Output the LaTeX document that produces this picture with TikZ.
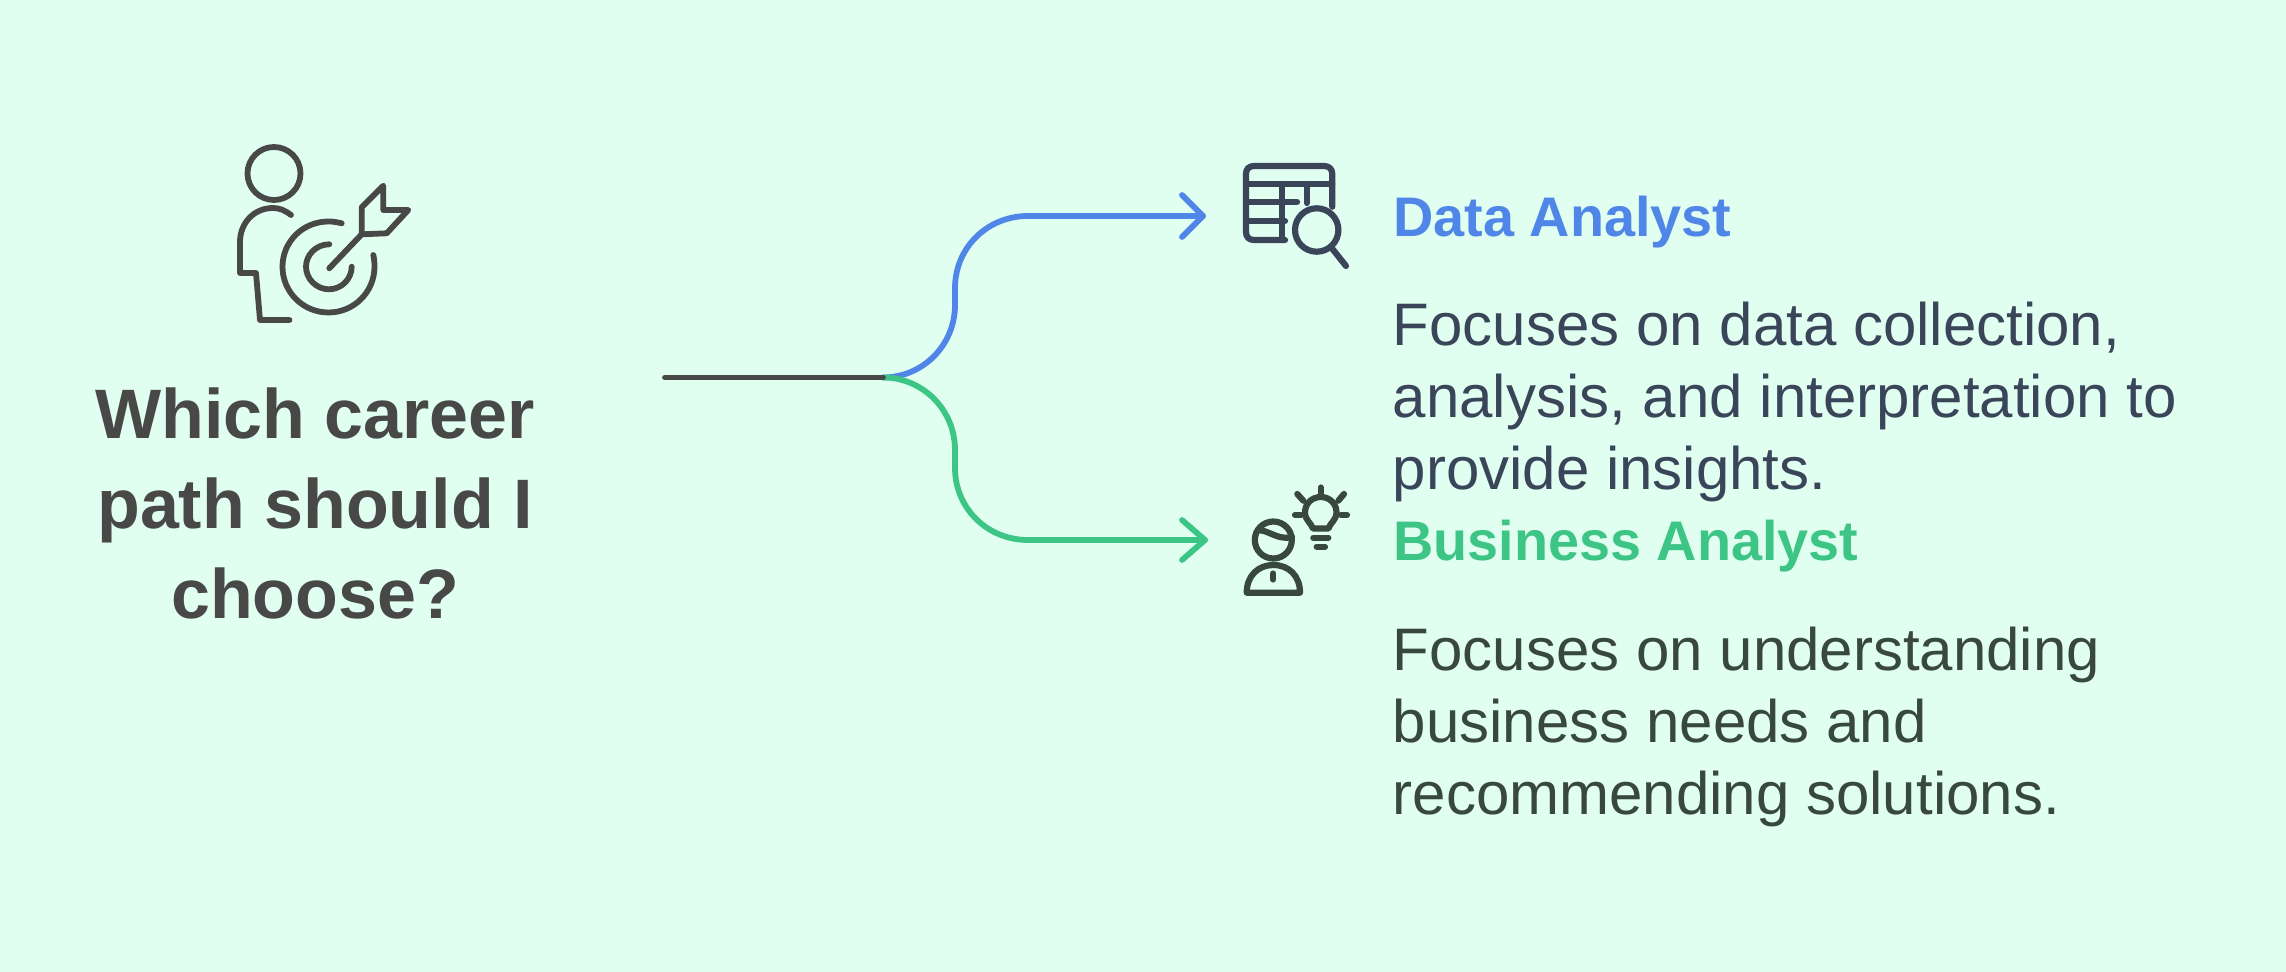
\documentclass[tikz,border=0pt]{standalone}
\usepackage{fontspec}
\setmainfont{Liberation Sans}
\definecolor{bgc}{HTML}{E0FFF0}
\definecolor{bluec}{HTML}{4F86E8}
\definecolor{greenc}{HTML}{3DC585}
\definecolor{darkc}{HTML}{484848}
\definecolor{navyc}{HTML}{3A4559}
\definecolor{slatec}{HTML}{38483F}
\tikzset{
  conn/.style={line width=2.9pt,line cap=round,line join=round},
  ico/.style={line width=2.9pt,line cap=round,line join=round},
  titletext/.style={anchor=base,align=center,inner sep=0pt,text=darkc,font=\fontsize{35}{45}\selectfont\bfseries},
  headtext/.style={anchor=base west,inner sep=0pt,font=\fontsize{27.9}{30}\selectfont\bfseries},
  bodytext/.style={anchor=base west,align=left,inner sep=0pt,font=\fontsize{30}{36}\selectfont},
}
\begin{document}
\begin{tikzpicture}[x=0.5pt,y=-0.5pt]
\useasboundingbox (0,0) rectangle (2286,972);
\fill[bgc] (0,0) rectangle (2286,972);
% connectors
\coordinate (start) at (665,377.5);
\coordinate (fork) at (883,377.5);
\coordinate (endA) at (1203,216);
\coordinate (endB) at (1205,540);
\draw[conn,bluec] (fork) .. controls (923,377.5) and (955,345) .. (955,305) -- (955,288) .. controls (955,248) and (987,216) .. (1028,216) -- (endA);
\draw[conn,bluec] (1182,195) -- (endA) -- (1182,237);
\draw[conn,greenc] (fork) .. controls (923,377.5) and (955,410) .. (955,450) -- (955,468) .. controls (955,508) and (987,540) .. (1028,540) -- (endB);
\draw[conn,greenc] (1182,520) -- (endB) -- (1182,560);
\draw[conn,darkc] (start) -- (fork);
% target icon
\begin{scope}[ico,darkc]
\draw (274,173.5) circle (26.5);
\draw (291,215) .. controls (286,211) and (280,208) .. (273,208) .. controls (254,208) and (240,223) .. (240,242) -- (240,273) -- (256,273) -- (260,320) -- (289.5,320);
\draw (341.7,223.3) .. controls (336,222) and (333,221.5) .. (328.5,221.5) .. controls (303,221.5) and (282.5,241.5) .. (282.5,266.7) .. controls (282.5,292) and (303,312.5) .. (328.5,312.5) .. controls (354,312.5) and (374.5,292) .. (374.5,266.7) .. controls (374.5,262) and (374,258) .. (373.3,255);
\draw (329.3,244.3) .. controls (316.5,244.3) and (306,254.5) .. (306,266.7) .. controls (306,279) and (316.5,289.3) .. (329,289.3) .. controls (341.5,289.3) and (351.7,279) .. (351.7,266.7);
\draw (329.3,268.3) -- (361.7,234.3);
\draw (361.7,234.3) -- (361.7,207.3) -- (383.3,185.7) -- (383.3,210) -- (408.3,210) -- (386.7,233.3) -- cycle;
\end{scope}
% table icon
\begin{scope}[ico,navyc,line width=3.1pt]
\draw (1332.3,206.7) -- (1332.3,174) .. controls (1332.3,169) and (1329,166) .. (1324,166) -- (1254,166) .. controls (1249,166) and (1246,169) .. (1246,174) -- (1246,232) .. controls (1246,237) and (1249,240) .. (1254,240) -- (1285,240);
\draw (1246,184) -- (1332.3,184);
\draw (1281.7,184) -- (1281.7,240);
\draw (1246,202) -- (1297,202);
\draw (1246,221) -- (1285,221);
\draw (1306.7,184) -- (1306.7,203);
\draw (1316.7,230) circle (21.7);
\draw (1331.7,248) -- (1346,266);
\end{scope}
% bulb-person icon
\begin{scope}[ico,slatec,line width=3.1pt]
\draw (1273.3,540) circle (18.5);
\draw (1258,530) .. controls (1265,530) and (1272,535) .. (1280,537) .. controls (1285,538) and (1289,538) .. (1292,537);
\draw (1246.7,592.7) .. controls (1246.7,576) and (1258,565) .. (1273.3,565) .. controls (1289,565) and (1300,576) .. (1300,592.7) -- cycle;
\draw (1273.3,573.5) -- (1273.3,579.5);
\draw (1313,528.5) .. controls (1311,523) and (1305,520) .. (1305,512.5) .. controls (1305,503.5) and (1312,497) .. (1320.7,497) .. controls (1329.5,497) and (1336.5,503.5) .. (1336.5,512.5) .. controls (1336.5,520) and (1330,523) .. (1328.5,528.5) -- cycle;
\draw (1313.3,537.7) -- (1328.3,537.7);
\draw (1316.7,546.7) -- (1325,546.7);
\draw (1320.7,487.5) -- (1320.7,493.5);
\draw (1295,515) -- (1301,515);
\draw (1341,515) -- (1347,515);
\draw (1297.3,494) -- (1303.3,500.7);
\draw (1344,494) -- (1338.3,500.7);
\end{scope}
% texts
\node[titletext] (question) at (315,618) {Which career\\path should I\\choose?};
\node[headtext,text=bluec] (headA) at (1393,236.7) {Data Analyst};
\node[bodytext,text=navyc] (bodyA) at (1392.5,490) {Focuses on data collection,\\analysis, and interpretation to\\provide insights.};
\node[headtext,text=greenc] (headB) at (1393,561) {Business Analyst};
\node[bodytext,text=slatec] (bodyB) at (1392.5,814) {Focuses on understanding\\business needs and\\recommending solutions.};
\end{tikzpicture}
\end{document}
